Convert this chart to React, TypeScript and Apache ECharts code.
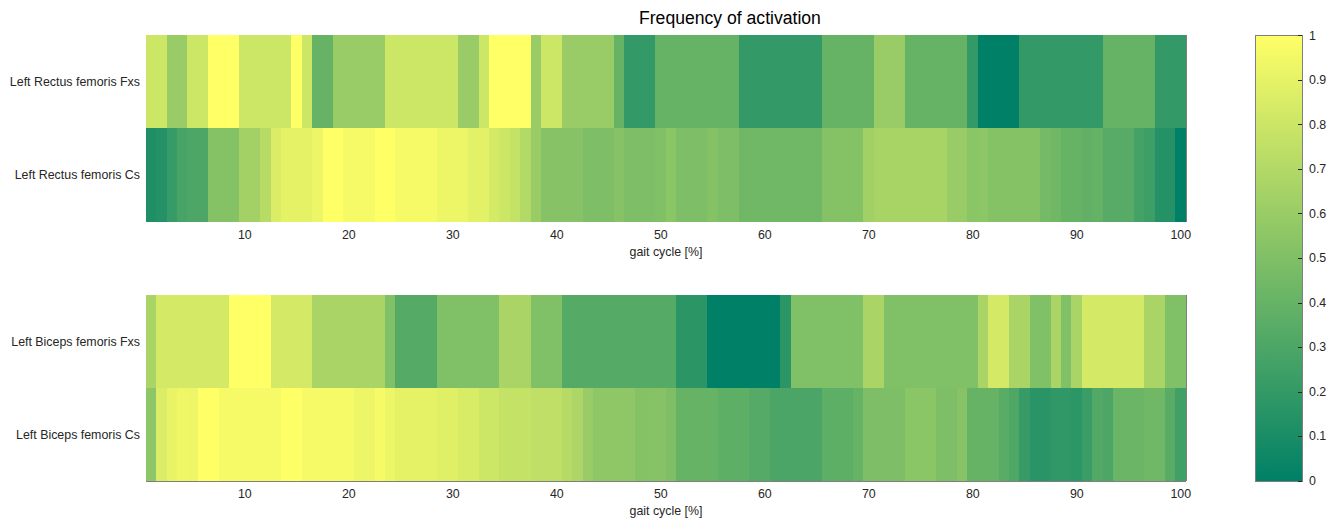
import React, { useEffect, useRef } from "react";
import * as echarts from "echarts";

const gaitCycle: string[] = Array.from({ length: 100 }, (_, i) => String(i + 1));
const xTickLabels = ["10", "20", "30", "40", "50", "60", "70", "80", "90", "100"];
const rectusRows = ["Left Rectus femoris Fxs", "Left Rectus femoris Cs"];
const bicepsRows = ["Left Biceps femoris Fxs", "Left Biceps femoris Cs"];
const colorbarTicks = [0, 0.1, 0.2, 0.3, 0.4, 0.5, 0.6, 0.7, 0.8, 0.9, 1];

const rectusFxs = [
  0.8, 0.8, 0.6, 0.6, 0.8, 0.8, 1, 1, 1, 0.8,
  0.8, 0.8, 0.8, 0.8, 1, 0.8, 0.4, 0.4, 0.6, 0.6,
  0.6, 0.6, 0.6, 0.8, 0.8, 0.8, 0.8, 0.8, 0.8, 0.8,
  0.6, 0.6, 0.8, 1, 1, 1, 1, 0.6, 0.8, 0.8,
  0.6, 0.6, 0.6, 0.6, 0.6, 0.4, 0.2, 0.2, 0.2, 0.4,
  0.4, 0.4, 0.4, 0.4, 0.4, 0.4, 0.4, 0.2, 0.2, 0.2,
  0.2, 0.2, 0.2, 0.2, 0.2, 0.4, 0.4, 0.4, 0.4, 0.4,
  0.6, 0.6, 0.6, 0.4, 0.4, 0.4, 0.4, 0.4, 0.4, 0.2,
  0, 0, 0, 0, 0.2, 0.2, 0.2, 0.2, 0.2, 0.2,
  0.2, 0.2, 0.4, 0.4, 0.4, 0.4, 0.4, 0.2, 0.2, 0.2,
];

const rectusCs = [
  0.12, 0.14, 0.21, 0.28, 0.3, 0.3, 0.52, 0.52, 0.52, 0.64,
  0.64, 0.72, 0.86, 0.9, 0.9, 0.9, 0.93, 1, 1, 0.96,
  0.96, 0.96, 1, 1, 0.96, 0.96, 0.96, 0.96, 0.93, 0.93,
  0.93, 0.89, 0.89, 0.83, 0.8, 0.77, 0.7, 0.6, 0.53, 0.53,
  0.53, 0.53, 0.49, 0.49, 0.49, 0.53, 0.49, 0.49, 0.49, 0.5,
  0.54, 0.49, 0.49, 0.49, 0.52, 0.49, 0.49, 0.44, 0.44, 0.44,
  0.44, 0.44, 0.44, 0.44, 0.44, 0.52, 0.52, 0.52, 0.52, 0.63,
  0.66, 0.66, 0.66, 0.66, 0.66, 0.66, 0.66, 0.6, 0.6, 0.54,
  0.55, 0.52, 0.52, 0.52, 0.52, 0.52, 0.46, 0.44, 0.4, 0.4,
  0.38, 0.39, 0.34, 0.34, 0.34, 0.27, 0.24, 0.14, 0.14, 0,
];

const bicepsFxs = [
  0.667, 0.833, 0.833, 0.833, 0.833, 0.833, 0.833, 0.833, 1, 1,
  1, 1, 0.833, 0.833, 0.833, 0.833, 0.667, 0.667, 0.667, 0.667,
  0.667, 0.667, 0.667, 0.5, 0.333, 0.333, 0.333, 0.333, 0.5, 0.5,
  0.5, 0.5, 0.5, 0.5, 0.667, 0.667, 0.667, 0.5, 0.5, 0.5,
  0.333, 0.333, 0.333, 0.333, 0.333, 0.333, 0.333, 0.333, 0.333, 0.333,
  0.333, 0.167, 0.167, 0.167, 0, 0, 0, 0, 0, 0,
  0, 0.167, 0.5, 0.5, 0.5, 0.5, 0.5, 0.5, 0.5, 0.667,
  0.667, 0.5, 0.5, 0.5, 0.5, 0.5, 0.5, 0.5, 0.5, 0.5,
  0.667, 0.833, 0.833, 0.667, 0.667, 0.5, 0.5, 0.667, 0.5, 0.667,
  0.833, 0.833, 0.833, 0.833, 0.833, 0.833, 0.667, 0.667, 0.5, 0.5,
];

const bicepsCs = [
  0.55, 0.86, 0.91, 0.94, 0.93, 1, 1, 0.96, 0.96, 0.96,
  0.96, 0.96, 0.96, 1, 1, 0.96, 0.96, 0.96, 0.96, 0.96,
  0.93, 0.93, 0.96, 0.93, 0.9, 0.9, 0.9, 0.9, 0.88, 0.88,
  0.85, 0.85, 0.8, 0.8, 0.77, 0.77, 0.77, 0.75, 0.75, 0.75,
  0.71, 0.68, 0.6, 0.56, 0.56, 0.56, 0.56, 0.52, 0.52, 0.53,
  0.49, 0.4, 0.4, 0.4, 0.4, 0.37, 0.37, 0.37, 0.33, 0.33,
  0.29, 0.29, 0.29, 0.29, 0.29, 0.37, 0.37, 0.37, 0.4, 0.49,
  0.49, 0.49, 0.49, 0.54, 0.54, 0.54, 0.49, 0.49, 0.53, 0.4,
  0.4, 0.4, 0.35, 0.31, 0.21, 0.16, 0.16, 0.19, 0.19, 0.17,
  0.23, 0.32, 0.3, 0.42, 0.42, 0.42, 0.44, 0.44, 0.35, 0.25,
];

const FONT = "'Liberation Sans', Arial, Helvetica, sans-serif";
const LABEL_COLOR = "#262626";
const FRAME_COLOR = "#7f7f7f";
const TICK_COLOR = "#262626";

const showTick = (idx: number, val: string) => xTickLabels.indexOf(val) >= 0;

function heatData(rows: number[][]) {
  const out: [number, number, number][] = [];
  rows.forEach((vals, r) => vals.forEach((v, c) => out.push([c, r, v])));
  return out;
}

function xAxes(gridIndex: number) {
  const common = {
    type: "category" as const,
    data: gaitCycle,
    gridIndex,
    boundaryGap: true,
    axisLine: { show: true, lineStyle: { color: FRAME_COLOR, width: 1 } },
    axisTick: {
      show: true,
      inside: true,
      length: 8,
      alignWithLabel: true,
      interval: showTick,
      lineStyle: { color: TICK_COLOR, width: 1 },
    },
    splitLine: { show: false },
  };
  return [
    {
      ...common,
      position: "bottom",
      axisLabel: {
        interval: showTick,
        color: LABEL_COLOR,
        fontSize: 12.4,
        fontFamily: FONT,
        margin: 7,
      },
      name: "gait cycle [%]",
      nameLocation: "middle",
      nameGap: 24,
      nameTextStyle: { color: LABEL_COLOR, fontSize: 12.4, fontFamily: FONT },
    },
    { ...common, position: "top", axisLabel: { show: false } },
  ];
}

function yAxes(gridIndex: number, rows: string[]) {
  const common = {
    type: "category" as const,
    data: rows,
    gridIndex,
    inverse: true,
    boundaryGap: true,
    axisLine: { show: true, lineStyle: { color: FRAME_COLOR, width: 1 } },
    axisTick: {
      show: true,
      inside: true,
      length: 8,
      alignWithLabel: true,
      lineStyle: { color: TICK_COLOR, width: 1 },
    },
    splitLine: { show: false },
  };
  return [
    {
      ...common,
      position: "left",
      axisLabel: { color: LABEL_COLOR, fontSize: 12.4, fontFamily: FONT, margin: 6 },
    },
    { ...common, position: "right", axisLabel: { show: false } },
  ];
}

export default function App() {
  const ref = useRef<HTMLDivElement>(null);

  useEffect(() => {
    if (!ref.current) return;
    const chart = echarts.init(ref.current, undefined, { renderer: "svg" });

    const CB = { left: 1255, top: 35.5, width: 47, height: 445.5 };

    const option: any = {
      animation: false,
      backgroundColor: "#ffffff",
      title: {
        text: "Frequency of activation",
        left: 639,
        top: 9,
        padding: 0,
        textStyle: { fontSize: 17.6, fontWeight: "normal", color: "#000000", fontFamily: FONT },
      },
      grid: [
        { left: 146, top: 35.5, width: 1040, height: 186 },
        { left: 146, top: 295, width: 1040, height: 186 },
        { left: CB.left, top: CB.top, width: CB.width, height: CB.height },
      ],
      xAxis: [
        ...xAxes(0),
        ...xAxes(1),
        { type: "category", gridIndex: 2, data: [""], show: false },
      ],
      yAxis: [
        ...yAxes(0, rectusRows),
        ...yAxes(1, bicepsRows),
        {
          type: "value",
          gridIndex: 2,
          min: 0,
          max: 1,
          interval: 0.1,
          position: "right",
          axisLine: { show: false },
          axisTick: { show: true, inside: true, length: 4, lineStyle: { color: TICK_COLOR } },
          splitLine: { show: false },
          axisLabel: {
            color: LABEL_COLOR,
            fontSize: 12.4,
            fontFamily: FONT,
            margin: 7,
            formatter: (v: number) => {
              const t = colorbarTicks.find((c) => Math.abs(c - v) < 1e-6);
              return t === undefined ? "" : String(t);
            },
          },
        },
      ],
      visualMap: {
        show: false,
        type: "continuous",
        min: 0,
        max: 1,
        seriesIndex: [0, 1],
        inRange: { color: ["#008066", "#ffff66"] },
      },
      graphic: [
        {
          type: "rect",
          z: -10,
          shape: { x: CB.left, y: CB.top, width: CB.width, height: CB.height },
          style: {
            fill: new echarts.graphic.LinearGradient(0, 0, 0, 1, [
              { offset: 0, color: "#ffff66" },
              { offset: 1, color: "#008066" },
            ]),
            stroke: FRAME_COLOR,
            lineWidth: 1,
          },
        },
      ],
      series: [
        {
          type: "heatmap",
          xAxisIndex: 0,
          yAxisIndex: 0,
          data: heatData([rectusFxs, rectusCs]),
          itemStyle: { borderWidth: 0 },
          emphasis: { disabled: true },
        },
        {
          type: "heatmap",
          xAxisIndex: 2,
          yAxisIndex: 2,
          data: heatData([bicepsFxs, bicepsCs]),
          itemStyle: { borderWidth: 0 },
          emphasis: { disabled: true },
        },
      ],
    };

    chart.setOption(option);
    return () => chart.dispose();
  }, []);

  return (
    <>
      <style>{`.heat-chart svg path, .heat-chart svg rect { shape-rendering: crispEdges; }`}</style>
      <div
        ref={ref}
        className="heat-chart"
        style={{ position: "fixed", left: 0, top: 0, width: 1334, height: 522 }}
      />
    </>
  );
}
